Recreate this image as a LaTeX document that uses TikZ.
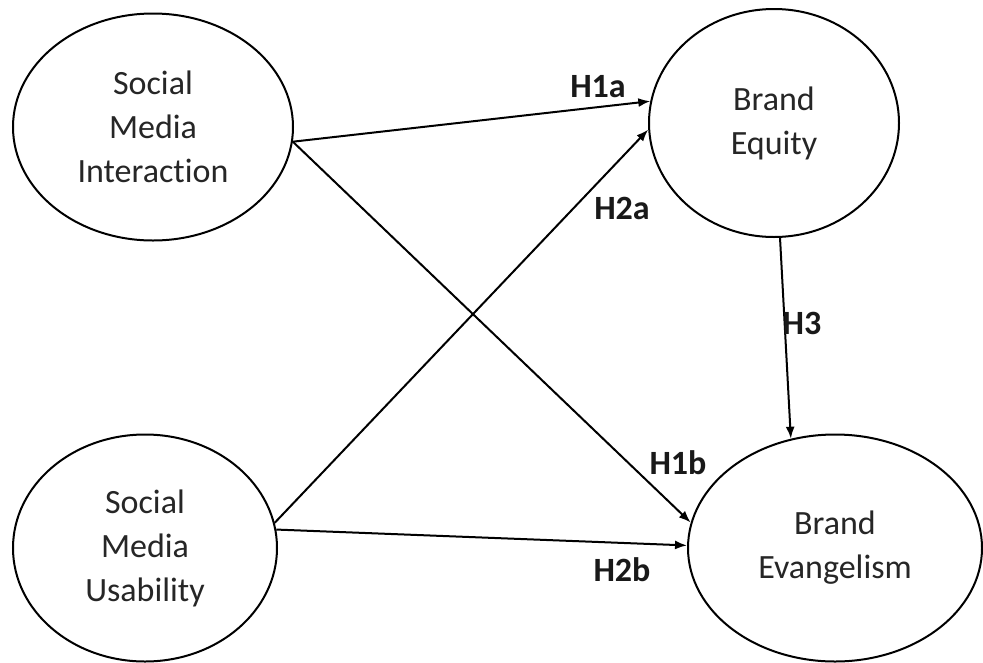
\documentclass[tikz,border=0pt]{standalone}
\usepackage{fontspec}
\setmainfont{Carlito}[Ligatures=NoCommon]
\usetikzlibrary{shapes.geometric,arrows.meta}
\begin{document}
\begin{tikzpicture}[x=1pt,y=-1pt,
  construct/.style={draw, ellipse, line width=2pt, inner sep=0pt, align=center,
    font=\fontsize{34}{44}\selectfont, text=black!85},
  path/.style={draw, line width=2pt, -{Latex[length=12pt,width=9pt]}},
  hyp/.style={font=\bfseries\fontsize{34}{38}\selectfont, text=black!90}]
\useasboundingbox (0,0) rectangle (983,662);
\fill[white] (0,0) rectangle (983,662);
\node[construct, minimum width=280pt, minimum height=227pt] (smi) at (153,127) {Social\\Media\\Interaction};
\node[construct, minimum width=250pt, minimum height=228pt] (be) at (774,123) {Brand\\Equity};
\node[construct, minimum width=264pt, minimum height=227pt] (smu) at (145,548) {Social\\Media\\Usability};
\node[construct, minimum width=294pt, minimum height=227pt] (bev) at (835,548) {Brand\\Evangelism};
\draw[path] (smi.-6) -- (be.170);
\draw[path] (smi.-6) -- (bev.170);
\draw[path] (smu.11) -- (be.-177);
\draw[path] (smu.8) -- (bev.179);
\draw[path] (be.-87) -- (bev.112);
\node[hyp] (h1a) at (598,87) {H1a};
\node[hyp] (h2a) at (622,208) {H2a};
\node[hyp] (h3) at (802,323) {H3};
\node[hyp] (h1b) at (678,463) {H1b};
\node[hyp] (h2b) at (622,570) {H2b};
\end{tikzpicture}
\end{document}
